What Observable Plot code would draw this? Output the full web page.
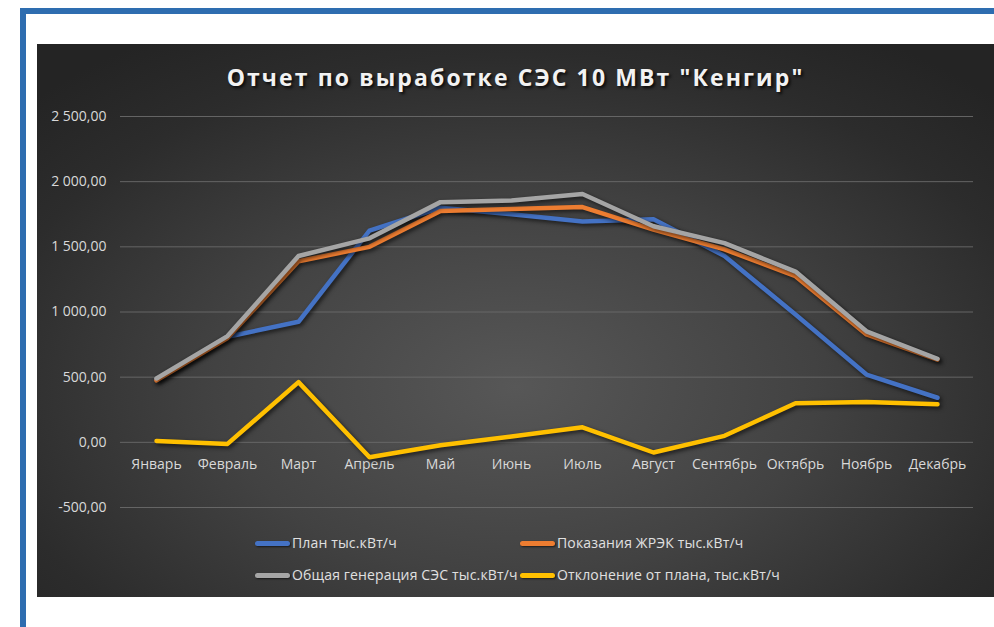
<!DOCTYPE html>
<html><head><meta charset="utf-8">
<script src="https://cdn.jsdelivr.net/npm/d3@7"></script>
<script src="https://cdn.jsdelivr.net/npm/@observablehq/plot@0.6"></script>
<style>
body{margin:0;background:#fff;width:994px;height:627px;overflow:hidden;position:relative;font-family:"Open Sans",sans-serif}
#frame{position:absolute;left:20px;top:8px;width:1000px;height:700px;border-left:6px solid #2E6DB0;border-top:6px solid #2E6DB0;box-sizing:border-box}
#panel{position:absolute;left:37px;top:44px;width:957px;height:553px;overflow:hidden;
 background:radial-gradient(ellipse 70% 75% at 50% 62%, #575757 0%, #424242 45%, #2c2c2c 80%, #242424 100%)}
#title{position:absolute;left:0;right:0;top:18px;text-align:center;color:#f2f2f2;font-weight:bold;font-size:23px;letter-spacing:2.1px;line-height:30px;text-shadow:2px 2px 3px rgba(0,0,0,0.8)}
#chart{position:absolute;left:0;top:56px}
.leg{position:absolute;display:flex;align-items:center;color:#e0e0e0;font-size:14px;letter-spacing:0.15px;white-space:nowrap;line-height:18px}
.sw{display:inline-block;width:35px;height:5px;border-radius:3px;margin-right:2px;box-shadow:1px 1px 2px rgba(0,0,0,0.6)}
svg g[aria-label="line"]{filter:drop-shadow(2px 2px 2px rgba(0,0,0,0.65))}
</style></head>
<body>
<div id="frame"></div>
<div id="panel">
 <div id="title">Отчет по выработке СЭС 10 МВт "Кенгир"</div>
 <div id="chart"></div>
</div>
<script>
const months = ["Январь","Февраль","Март","Апрель","Май","Июнь","Июль","Август","Сентябрь","Октябрь","Ноябрь","Декабрь"];
const plan   = [480, 810, 925, 1625, 1800, 1750, 1695, 1712, 1430, 980, 520, 342];
const zhrek  = [475, 800, 1390, 1500, 1775, 1790, 1805, 1632, 1480, 1275, 828, 635];
const total  = [490, 815, 1430, 1565, 1843, 1855, 1905, 1658, 1528, 1310, 852, 641];
const dev    = [10, -12, 462, -115, -22, 44, 115, -78, 50, 300, 310, 292];
const yTicks = [-500, 0, 500, 1000, 1500, 2000, 2500];
const seriesNames = ["План тыс.кВт/ч","Показания ЖРЭК тыс.кВт/ч","Общая генерация СЭС тыс.кВт/ч","Отклонение от плана, тыс.кВт/ч"];
const seriesColors = ["#4472C4","#ED7D31","#A5A5A5","#FFC000"];
const seriesValues = [plan, zhrek, total, dev];

const loc = d3.formatLocale({decimal:",", thousands:"\u00a0", grouping:[3], currency:["",""], minus:"-"});
const fmt = loc.format(",.2f");

const lineMarks = seriesValues.map((vals, k) => Plot.line(months, {
  x: d => d, y: (d, i) => vals[i], stroke: seriesColors[k], strokeWidth: 4.5,
  strokeLinecap: "round", strokeLinejoin: "round"
}));

const chart = Plot.plot({
  width: 957, height: 430,
  marginLeft: 83, marginRight: 21, marginTop: 16, marginBottom: 23,
  style: {background: "transparent", color: "#d9d9d9", fontFamily: "Open Sans", fontSize: "14px", overflow: "visible"},
  x: {type: "point", domain: months, padding: 0.5, axis: null},
  y: {domain: [-500, 2500], label: null, axis: null},
  marks: [
    Plot.gridY(yTicks, {stroke: "#6a6a6a", strokeOpacity: 0.9, strokeWidth: 1}),
    Plot.axisY(yTicks, {tickSize: 0, tickPadding: 14, tickFormat: fmt, fill: "#d9d9d9", fontSize: 14, label: null}),
    Plot.text(months, {x: d => d, y: () => 0, dy: 22, fill: "#d9d9d9", fontSize: 14}),
    ...lineMarks
  ]
});
document.getElementById("chart").appendChild(chart);

const panel = document.getElementById("panel");
const pos = [[218, 499], [483, 499], [218, 531], [483, 531]];
seriesNames.forEach((name, k) => {
  const el = document.createElement("div");
  el.className = "leg";
  el.style.left = pos[k][0] + "px";
  el.style.top = (pos[k][1] - 9) + "px";
  const sw = document.createElement("span");
  sw.className = "sw";
  sw.style.background = seriesColors[k];
  el.appendChild(sw);
  el.appendChild(document.createTextNode(name));
  panel.appendChild(el);
});
</script>
</body></html>
